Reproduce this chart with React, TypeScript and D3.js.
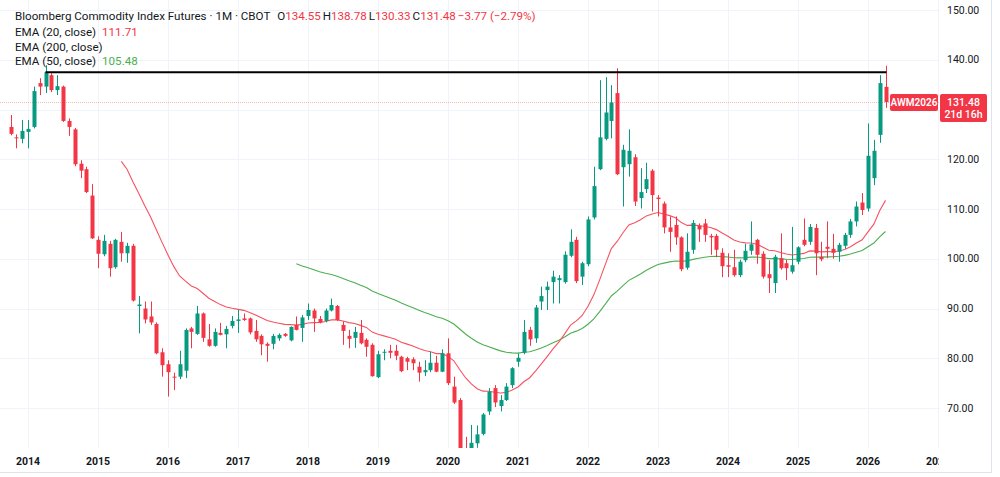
import React from 'react';
import * as d3 from 'd3';

// First bar: October 2013, monthly bars
const START_YEAR = 2013;
const START_MONTH = 9; // 0-based (October)

const opens = [
  126.5, 124.4, 124.1, 125.5, 126.5, 135.3, 134.6, 136.9, 133.9, 134.6, 127.7, 126.0,
  119.1, 118.0, 112.7, 103.8, 100.9, 103.0, 98.3, 103.4, 101.1, 102.6, 90.5, 90.0,
  88.4, 86.9, 81.2, 78.8, 76.3, 76.3, 77.5, 86.0, 84.9, 89.0, 83.8, 82.5,
  85.1, 84.8, 86.5, 87.5, 88.0, 88.0, 85.5, 84.5, 82.9, 82.9, 84.0, 84.9,
  83.6, 86.7, 86.1, 88.5, 89.6, 87.9, 87.5, 89.6, 90.5, 86.7, 84.5, 84.1,
  85.1, 83.7, 82.7, 76.2, 81.1, 81.5, 81.5, 80.3, 80.0, 79.8, 78.3, 77.2,
  77.6, 79.1, 77.3, 81.0, 74.3, 71.6, 61.5, 61.8, 62.9, 64.8, 69.3, 74.0,
  70.4, 71.6, 74.6, 79.3, 81.1, 85.7, 84.0, 91.4, 93.7, 95.3, 95.7, 95.3,
  100.6, 103.8, 96.4, 98.9, 108.3, 118.0, 124.1, 127.7, 133.3, 118.4, 119.0, 120.4,
  112.2, 114.0, 117.7, 112.3, 111.1, 106.3, 106.8, 104.3, 98.2, 101.8, 106.6, 107.1,
  104.6, 104.6, 101.2, 98.7, 98.3, 96.7, 99.7, 101.6, 103.8, 101.0, 96.9, 95.1,
  100.1, 99.1, 97.4, 99.4, 103.8, 103.4, 106.2, 100.4, 102.4, 102.0, 101.4, 102.6,
  104.8, 107.5, 111.3, 110.1, 116.2, 124.9, 134.55,
];
const highs = [
  128.9, 125.0, 127.9, 127.9, 134.6, 136.3, 138.9, 137.3, 136.9, 134.8, 128.2, 126.3,
  119.8, 118.5, 115.0, 104.5, 104.8, 103.6, 104.0, 105.4, 103.2, 103.0, 92.5, 91.4,
  91.4, 87.2, 82.0, 79.6, 77.1, 81.5, 86.0, 86.3, 90.5, 89.2, 86.9, 86.0,
  87.1, 86.5, 88.5, 89.7, 89.0, 88.2, 87.7, 84.8, 83.2, 84.9, 85.0, 85.1,
  86.4, 88.4, 88.7, 91.0, 90.0, 88.5, 90.0, 92.0, 90.7, 87.4, 85.7, 86.3,
  87.7, 84.0, 83.0, 81.5, 81.8, 82.7, 82.7, 80.5, 80.3, 80.2, 79.3, 79.6,
  81.3, 80.5, 81.8, 84.0, 76.3, 72.0, 64.2, 66.6, 66.5, 69.0, 74.0, 74.6,
  72.6, 75.0, 78.2, 81.0, 87.7, 86.3, 90.7, 94.4, 95.4, 97.6, 96.7, 101.5,
  105.9, 104.4, 99.4, 108.5, 118.5, 135.9, 136.5, 134.9, 138.3, 122.9, 126.0, 121.0,
  118.2, 119.3, 118.0, 112.8, 111.5, 108.5, 108.5, 104.5, 105.1, 107.8, 107.1, 108.0,
  105.0, 105.0, 102.1, 101.1, 101.8, 99.8, 103.0, 107.5, 104.0, 101.5, 99.7, 100.8,
  105.1, 99.8, 106.4, 102.5, 108.1, 107.0, 107.0, 103.4, 107.5, 105.0, 103.2, 105.2,
  108.0, 111.5, 113.2, 127.2, 123.9, 136.9, 138.78,
];
const lows = [
  124.8, 122.2, 123.2, 122.2, 126.2, 132.9, 133.3, 133.5, 132.9, 127.5, 124.7, 118.6,
  116.2, 113.2, 104.0, 98.1, 100.5, 96.4, 98.0, 99.4, 99.2, 91.4, 85.0, 87.0,
  86.7, 80.8, 76.3, 72.3, 73.6, 75.8, 76.0, 82.0, 84.7, 83.3, 82.3, 82.3,
  84.6, 82.0, 86.0, 85.1, 87.5, 84.8, 83.3, 80.6, 79.3, 81.8, 83.5, 84.3,
  83.4, 85.6, 83.3, 87.7, 85.3, 87.0, 87.2, 89.4, 87.5, 82.7, 82.0, 82.1,
  82.8, 80.3, 76.3, 76.0, 79.6, 80.0, 79.6, 77.2, 77.6, 77.6, 75.3, 76.4,
  77.2, 77.2, 77.2, 74.6, 70.8, 58.0, 58.5, 60.5, 62.0, 64.5, 68.6, 70.2,
  69.3, 71.4, 74.0, 78.3, 80.8, 82.5, 83.1, 89.7, 89.7, 91.0, 91.0, 95.0,
  100.3, 95.1, 94.7, 98.5, 107.9, 117.8, 123.8, 124.2, 116.8, 110.5, 116.5, 110.6,
  110.1, 113.2, 109.5, 108.5, 105.1, 101.4, 102.8, 97.5, 97.8, 101.0, 103.4, 103.4,
  100.8, 100.3, 96.3, 96.3, 96.4, 96.3, 99.3, 100.8, 99.0, 96.0, 93.1, 93.1,
  97.8, 95.7, 97.0, 98.9, 102.5, 102.8, 96.7, 99.5, 100.1, 100.0, 99.4, 102.0,
  104.2, 106.5, 108.8, 109.5, 114.8, 123.3, 130.33,
];
const closes = [
  125.1, 124.2, 125.7, 126.1, 133.7, 134.6, 137.5, 133.9, 134.7, 127.7, 126.5, 119.0,
  117.7, 113.4, 104.1, 101.0, 103.6, 98.1, 103.8, 101.1, 102.6, 91.6, 90.8, 87.8,
  87.2, 81.0, 78.6, 77.2, 76.1, 78.8, 85.7, 85.3, 89.0, 84.1, 82.5, 85.3,
  84.7, 85.9, 87.5, 87.8, 87.7, 85.2, 83.8, 82.8, 82.5, 84.5, 84.7, 84.5,
  86.3, 85.7, 88.2, 89.7, 88.0, 87.2, 89.6, 90.7, 87.7, 85.5, 83.9, 85.3,
  83.0, 82.3, 76.4, 80.8, 81.3, 81.1, 80.5, 77.4, 79.3, 79.0, 77.1, 77.6,
  79.1, 77.3, 81.0, 75.0, 71.1, 61.0, 60.5, 63.0, 64.7, 68.7, 73.3, 71.1,
  71.6, 74.3, 78.0, 80.1, 85.3, 83.8, 90.2, 92.5, 94.4, 96.4, 96.1, 100.8,
  103.4, 95.5, 99.1, 107.9, 114.6, 124.4, 129.4, 131.4, 117.0, 121.9, 121.7, 111.5,
  113.4, 116.0, 112.8, 112.0, 106.3, 105.4, 104.3, 97.9, 101.4, 107.2, 105.9, 104.8,
  104.3, 101.8, 98.5, 98.4, 96.7, 99.4, 101.6, 102.9, 100.8, 96.4, 96.1, 100.4,
  98.1, 98.1, 98.7, 102.3, 102.8, 106.4, 101.1, 99.9, 102.0, 101.2, 102.8, 104.8,
  107.5, 110.5, 109.8, 120.7, 121.7, 135.3, 131.48,
];

const priceTicks = [70, 80, 90, 100, 110, 120, 140, 150];
const gridLevels = [70, 80, 90, 100, 110, 120, 130, 140, 150];
const yearTicks = [2014, 2015, 2016, 2017, 2018, 2019, 2020, 2021, 2022, 2023, 2024, 2025, 2026, 2027];

const RESISTANCE = 137.5;
const RESISTANCE_FROM = { year: 2014, month: 3 }; // April 2014

const TITLE = 'Bloomberg Commodity Index Futures · 1M · CBOT';
const OHLC_TEXT = { o: '134.55', h: '138.78', l: '130.33', c: '131.48', chg: '−3.77 (−2.79%)' };
const EMA20_TEXT = '111.71';
const EMA50_TEXT = '105.48';
const SYMBOL = 'AWM2026';
const COUNTDOWN = '21d 16h';

const UP = '#089981';
const DOWN = '#f23645';
const TEXT = '#131722';
const GRID = '#f0f3fa';
const EMA20_COLOR = '#f7525f';
const EMA50_COLOR = '#4caf50';
const FONT = 'Roboto, "Liberation Sans", sans-serif';

const W = 1000;
const H = 477;
const PANE_RIGHT = 940;
const PANE_BOTTOM = 448;

function ema(values: number[], n: number): (number | null)[] {
  const out: (number | null)[] = values.map(() => null);
  if (values.length < n) return out;
  const k = 2 / (n + 1);
  let prev = d3.mean(values.slice(0, n)) as number;
  out[n - 1] = prev;
  for (let i = n; i < values.length; i++) {
    prev = values[i] * k + prev * (1 - k);
    out[i] = prev;
  }
  return out;
}

const monthIndex = (year: number, month: number) => (year - START_YEAR) * 12 + (month - START_MONTH);

export default function App() {
  const n = closes.length;
  const x = d3.scaleLinear().domain([0, n - 1]).range([10.5, 885.5]);
  const y = d3.scaleLinear().domain([70, 150]).range([408, 10]);

  const ema20 = ema(closes, 20);
  const ema50 = ema(closes, 50);
  const lineGen = d3
    .line<number | null>()
    .defined((d) => d !== null)
    .x((_, i) => x(i))
    .y((d) => y(d as number));

  const lastClose = closes[n - 1];
  const lastY = y(lastClose);
  const bodyW = 4;
  const LF = 11.6;

  return (
    <svg
      width={W}
      height={H}
      style={{ position: 'fixed', left: 0, top: 0, fontFamily: FONT }}
    >
      <defs>
        <clipPath id="pane">
          <rect x={0} y={0} width={PANE_RIGHT} height={PANE_BOTTOM} />
        </clipPath>
        <clipPath id="timeaxis">
          <rect x={0} y={PANE_BOTTOM} width={PANE_RIGHT - 1} height={H - PANE_BOTTOM} />
        </clipPath>
      </defs>
      <rect x={0} y={0} width={W} height={H} fill="#ffffff" />

      {/* grid */}
      <g clipPath="url(#pane)">
        {gridLevels.map((t) => (
          <line key={'h' + t} x1={0} x2={PANE_RIGHT} y1={Math.round(y(t)) + 0.5} y2={Math.round(y(t)) + 0.5} stroke={GRID} />
        ))}
        {yearTicks.map((yr) => {
          const xi = Math.round(x(monthIndex(yr, 0))) + 0.5;
          return <line key={'v' + yr} x1={xi} x2={xi} y1={0} y2={PANE_BOTTOM} stroke={GRID} />;
        })}
      </g>

      {/* borders */}
      <line x1={991.5} x2={991.5} y1={0} y2={472} stroke="#e0e3eb" />
      <line x1={0} x2={992} y1={472.5} y2={472.5} stroke="#e0e3eb" />

      <g clipPath="url(#pane)">
        {/* last price line */}
        <line
          x1={0}
          x2={PANE_RIGHT}
          y1={Math.round(lastY) + 0.5}
          y2={Math.round(lastY) + 0.5}
          stroke={DOWN}
          strokeOpacity={0.35}
          strokeDasharray="1 1"
        />

        {/* EMA lines */}
        <path d={lineGen(ema50) || ''} fill="none" stroke={EMA50_COLOR} strokeWidth={1.1} />
        <path d={lineGen(ema20) || ''} fill="none" stroke={EMA20_COLOR} strokeWidth={1.1} />

        {/* candles */}
        {closes.map((c, i) => {
          const o = opens[i];
          const up = c >= o;
          const col = up ? UP : DOWN;
          const cx = Math.round(x(i));
          const top = y(Math.max(o, c));
          const bot = y(Math.min(o, c));
          return (
            <g key={i}>
              <line x1={cx + 0.5} x2={cx + 0.5} y1={y(highs[i])} y2={y(lows[i])} stroke={col} strokeWidth={1} />
              <rect x={cx + 0.5 - bodyW / 2} y={top} width={bodyW} height={Math.max(1, bot - top)} fill={col} />
            </g>
          );
        })}

        {/* horizontal resistance line */}
        <line
          x1={x(monthIndex(RESISTANCE_FROM.year, RESISTANCE_FROM.month))}
          x2={x(n - 1) + 1}
          y1={y(RESISTANCE)}
          y2={y(RESISTANCE)}
          stroke="#000000"
          strokeWidth={2}
        />
      </g>

      {/* price axis labels */}
      {priceTicks.map((t) => (
        <text key={'pt' + t} x={947} y={y(t)} dy="0.35em" fontSize={10.5} fill={TEXT}>
          {t.toFixed(2)}
        </text>
      ))}

      {/* time axis labels */}
      <g clipPath="url(#timeaxis)">
        {yearTicks.map((yr) => (
          <text
            key={'yt' + yr}
            x={x(monthIndex(yr, 0))}
            y={461}
            dy="0.35em"
            textAnchor="middle"
            fontSize={10.5}
            fontWeight={700}
            fill={TEXT}
          >
            {yr}
          </text>
        ))}
      </g>

      {/* symbol label and price label */}
      <rect x={890} y={Math.round(lastY) - 8} width={48} height={17} rx={2} fill={DOWN} />
      <text x={914} y={Math.round(lastY) + 0.5} dy="0.35em" textAnchor="middle" fontSize={10} fontWeight={600} fill="#ffffff">
        {SYMBOL}
      </text>
      <rect x={940} y={Math.round(lastY) - 8} width={47} height={28} rx={2} fill={DOWN} />
      <text x={963.5} y={Math.round(lastY) + 0.5} dy="0.35em" textAnchor="middle" fontSize={10.5} fontWeight={500} fill="#ffffff">
        {lastClose.toFixed(2)}
      </text>
      <text x={963.5} y={Math.round(lastY) + 12.5} dy="0.35em" textAnchor="middle" fontSize={10.5} fontWeight={500} fill="#ffffff">
        {COUNTDOWN}
      </text>

      {/* legend */}
      <g fontSize={LF} fill={TEXT}>
        <text x={15} y={16} dy="0.35em">
          <tspan>{TITLE}</tspan>
          <tspan dx={7}>O</tspan>
          <tspan fill={DOWN}>{OHLC_TEXT.o}</tspan>
          <tspan dx={2}>H</tspan>
          <tspan fill={DOWN}>{OHLC_TEXT.h}</tspan>
          <tspan dx={2}>L</tspan>
          <tspan fill={DOWN}>{OHLC_TEXT.l}</tspan>
          <tspan dx={2}>C</tspan>
          <tspan fill={DOWN}>{OHLC_TEXT.c}</tspan>
          <tspan dx={2} fill={DOWN}>{OHLC_TEXT.chg}</tspan>
        </text>
        <text x={15} y={31.5} dy="0.35em">
          <tspan>EMA (20, close)</tspan>
          <tspan dx={6} fill={DOWN}>{EMA20_TEXT}</tspan>
        </text>
        <text x={15} y={46.5} dy="0.35em">
          <tspan>EMA (200, close)</tspan>
        </text>
        <text x={15} y={61} dy="0.35em">
          <tspan>EMA (50, close)</tspan>
          <tspan dx={6} fill={EMA50_COLOR}>{EMA50_TEXT}</tspan>
        </text>
      </g>
    </svg>
  );
}
